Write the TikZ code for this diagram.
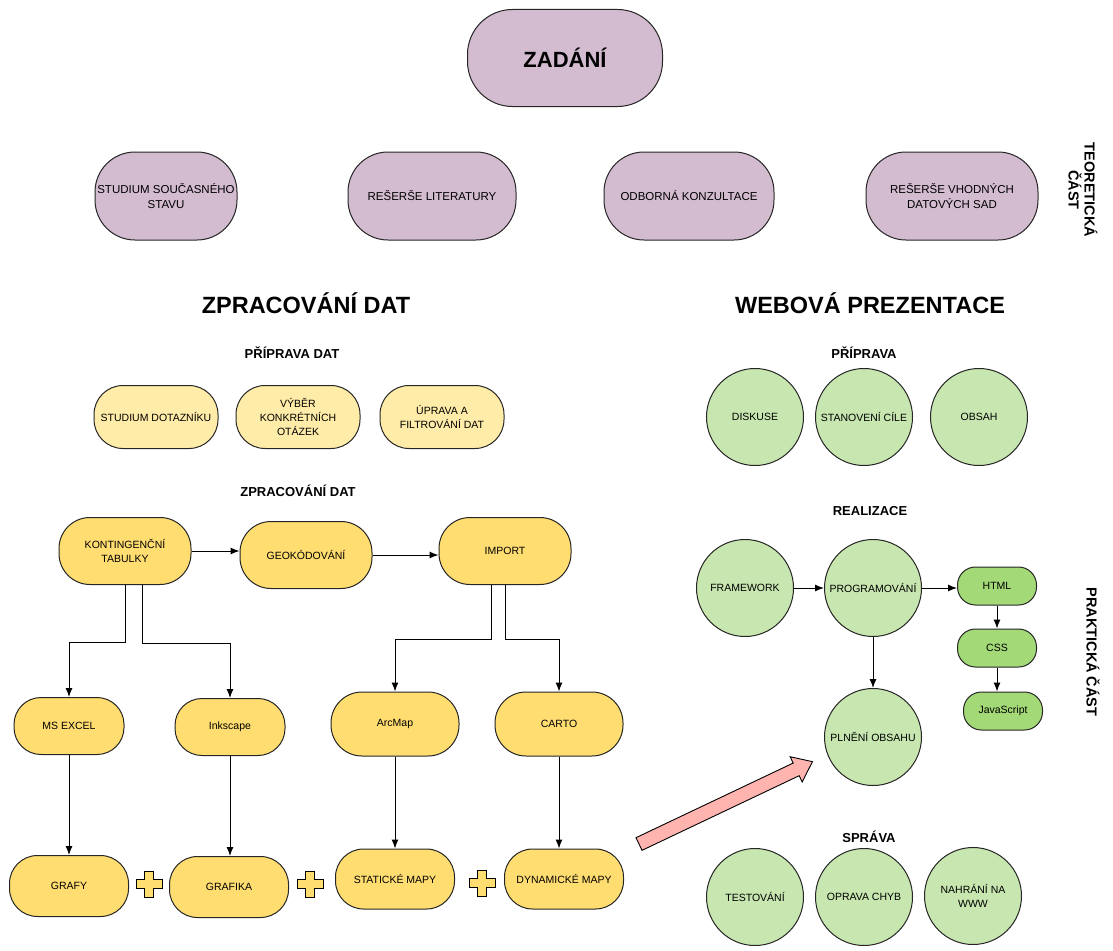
\documentclass[tikz,border=0pt]{standalone}
\usepackage{fontspec}
\setmainfont{Liberation Sans}
\usepackage{tikz}
\usetikzlibrary{arrows.meta,positioning,calc}

\definecolor{lilac}{HTML}{D3BBD0}
\definecolor{paleyellow}{HTML}{FFECA8}
\definecolor{gold}{HTML}{FFDD71}
\definecolor{mint}{HTML}{C7E6B0}
\definecolor{leaf}{HTML}{A3D977}
\definecolor{salmon}{HTML}{FFB4AF}

\begin{document}
\begin{tikzpicture}[x=1pt, y=-1pt,
        basic/.style  = {draw=black!85, line width=1pt, rectangle, align=center, inner sep=2pt},
        root/.style   = {basic, fill=lilac, rounded corners=45pt, minimum width=195pt, minimum height=97pt, font=\fontsize{22}{26}\selectfont\bfseries},
        theory/.style = {basic, fill=lilac, rounded corners=40pt, minimum height=88pt, font=\fontsize{11.5}{14.5}\selectfont},
        prep/.style   = {basic, fill=paleyellow, rounded corners=29pt, minimum width=124pt, minimum height=63pt, font=\fontsize{10.5}{14}\selectfont},
        proc/.style   = {basic, fill=gold, rounded corners=31pt, minimum width=132pt, minimum height=67pt, font=\fontsize{10.5}{14}\selectfont},
        tool/.style   = {proc, rounded corners=27pt, minimum width=110pt, minimum height=57pt},
        map/.style    = {proc, minimum width=128pt, minimum height=64pt},
        result/.style = {proc, rounded corners=28pt, minimum width=119pt, minimum height=61pt},
        circ/.style   = {circle, draw=black!85, line width=1pt, fill=mint, minimum size=97pt, inner sep=0pt, align=center, font=\fontsize{10.5}{14}\selectfont},
        tech/.style   = {basic, fill=leaf, rounded corners=18pt, minimum width=79pt, minimum height=38pt, font=\fontsize{10.5}{14}\selectfont},
        head/.style   = {font=\fontsize{23.5}{28}\selectfont\bfseries},
        sub/.style    = {font=\fontsize{13}{16}\selectfont\bfseries},
        side/.style   = {rotate=-90, align=center, font=\fontsize{14.5}{16}\selectfont\bfseries},
        plussign/.pic = {\draw[fill=gold, line width=0.9pt] (-4.5,-13) -- (4.5,-13) -- (4.5,-4.5) -- (13,-4.5) -- (13,4.5) -- (4.5,4.5) -- (4.5,13) -- (-4.5,13) -- (-4.5,4.5) -- (-13,4.5) -- (-13,-4.5) -- (-4.5,-4.5) -- cycle;},
        every path/.style = {line width=1pt},
        >={Latex[length=9pt, width=7pt]}]

        \useasboundingbox (0,0) rectangle (1113,950);

        % assignment and the theoretical part
        \node[root] (zad) at (565,58) {ZADÁNÍ};
        \node[theory, minimum width=142pt] (t1) at (166,196) {STUDIUM SOUČASNÉHO\\STAVU};
        \node[theory, minimum width=168pt] (t2) at (432,196) {REŠERŠE LITERATURY};
        \node[theory, minimum width=170pt] (t3) at (689,196) {ODBORNÁ KONZULTACE};
        \node[theory, minimum width=172pt] (t4) at (952,196) {REŠERŠE VHODNÝCH\\DATOVÝCH SAD};
        \node[side] (ts) at (1083,190) {TEORETICKÁ\\ČÁST};

        % headings
        \node[head] (hz) at (306,303) {ZPRACOVÁNÍ DAT};
        \node[head] (hw) at (870,303) {WEBOVÁ PREZENTACE};
        \node[sub] (sp) at (292,353) {PŘÍPRAVA DAT};
        \node[sub] (sz) at (298,491) {ZPRACOVÁNÍ DAT};
        \node[sub] (wp) at (864,353) {PŘÍPRAVA};
        \node[sub] (wr) at (870,511) {REALIZACE};
        \node[sub] (ws) at (869,837) {SPRÁVA};
        \node[side] (ps) at (1093,652) {PRAKTICKÁ ČÁST};

        % data preparation
        \node[prep] (p1) at (156,417) {STUDIUM DOTAZNÍKU};
        \node[prep] (p2) at (298,417) {VÝBĚR\\KONKRÉTNÍCH\\OTÁZEK};
        \node[prep] (p3) at (442,417) {ÚPRAVA A\\FILTROVÁNÍ DAT};

        % data processing
        \node[proc] (kt) at (125,551) {KONTINGENČNÍ\\TABULKY};
        \node[proc] (gk) at (306,555) {GEOKÓDOVÁNÍ};
        \node[proc] (im) at (505,551) {IMPORT};
        \node[tool] (ex) at (69,726) {MS EXCEL};
        \node[tool] (ink) at (230,727) {Inkscape};
        \node[map] (am) at (395,724) {ArcMap};
        \node[map] (ca) at (559,724) {CARTO};
        \node[result] (gr) at (69,886) {GRAFY};
        \node[result] (gf) at (229,887) {GRAFIKA};
        \node[result, minimum height=60pt] (st) at (395,879) {STATICKÉ MAPY};
        \node[result, minimum height=60pt] (dy) at (564,879) {DYNAMICKÉ MAPY};

        \pic at (149,884) {plussign};
        \pic at (310,884) {plussign};
        \pic at (482,883) {plussign};

        \draw[->] (kt.east) -- (kt.east -| gk.west);
        \draw[->] (gk.east) -- (gk.east -| im.west);
        \draw[->] (kt.south) -- ++(0,57) -| (ex.north);
        \draw[->] ([xshift=17pt]kt.south) -- ++(0,58) -| (ink.north);
        \draw[->] ([xshift=-14pt]im.south) -- ++(0,54) -| (am.north);
        \draw[->] (im.south) -- ++(0,54) -| (ca.north);
        \draw[->] (ex) -- (gr);
        \draw[->] (ink.south) -- (ink.south |- gf.north);
        \draw[->] (am) -- (st);
        \draw[->] (ca.south) -- (ca.south |- dy.north);

        % web presentation
        \node[circ] (ds) at (755,417) {DISKUSE};
        \node[circ] (sc) at (864,417) {STANOVENÍ CÍLE};
        \node[circ] (ob) at (979,417) {OBSAH};
        \node[circ] (fw) at (745,588) {FRAMEWORK};
        \node[circ] (pg) at (873,588) {PROGRAMOVÁNÍ};
        \node[circ] (pl) at (873,737) {PLNĚNÍ OBSAHU};
        \node[tech] (html) at (997,586) {HTML};
        \node[tech] (css) at (997,648) {CSS};
        \node[tech] (js) at (1003,711) {JavaScript};
        \node[circ] (te) at (755,897) {TESTOVÁNÍ};
        \node[circ] (oc) at (864,897) {OPRAVA CHYB};
        \node[circ] (nw) at (973,896) {NAHRÁNÍ NA\\WWW};

        \draw[->] (fw) -- (pg);
        \draw[->] (pg.east) -- (pg.east -| html.west);
        \draw[->] (pg) -- (pl);
        \draw[->] (html) -- (css);
        \draw[->] (css.south) -- (css.south |- js.north);

        % big arrow towards the web part
        \begin{scope}[shift={(639,844)}, rotate=25.4]
            \draw[fill=salmon, line width=0.9pt] (0,-7) -- (174,-7) -- (174,-14) -- (192,0) -- (174,14) -- (174,7) -- (0,7) -- cycle;
        \end{scope}

    \end{tikzpicture}
\end{document}
